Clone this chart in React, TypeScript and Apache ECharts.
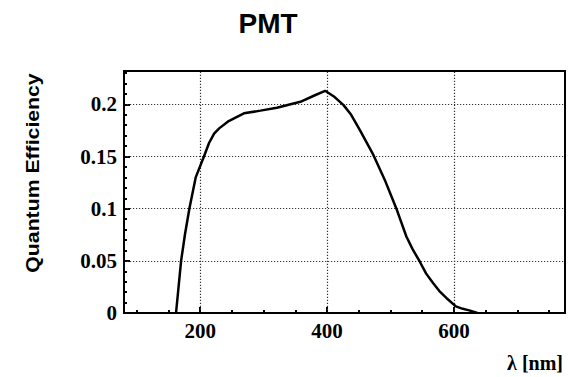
import React, { useEffect, useRef } from "react";
import * as echarts from "echarts";

const wavelength = [162, 166, 170, 176, 183, 193, 206, 214, 222, 230, 245, 269, 295, 321, 358, 380, 397, 412, 426, 438, 452, 473, 491, 509, 525, 535, 546, 556, 567, 577, 588, 603, 614, 624, 637];
const efficiency = [0, 0.025, 0.05, 0.075, 0.1, 0.13, 0.15, 0.163, 0.172, 0.177, 0.184, 0.1914, 0.194, 0.1968, 0.2025, 0.2085, 0.213, 0.207, 0.1993, 0.19, 0.175, 0.1515, 0.1276, 0.1005, 0.0733, 0.061, 0.0494, 0.038, 0.0287, 0.021, 0.0144, 0.0063, 0.004, 0.0025, 0];
const xMajorTicks = [200, 400, 600];
const xMinorTicks = [100, 150, 250, 300, 350, 450, 500, 550, 650, 700, 750];
const yMajorTicks = [0.05, 0.1, 0.15, 0.2];
const yTickLabels = ["0", "0.05", "0.1", "0.15", "0.2"];
const xMin = 80;
const xMax = 775;
const yMin = 0;
const yMax = 0.232;

const serif = "'Liberation Serif', 'DejaVu Serif', serif";
const sans = "'Liberation Sans', Arial, sans-serif";

export default function App() {
  const ref = useRef<HTMLDivElement>(null);
  useEffect(() => {
    document.body.style.margin = "0";
    const chart = echarts.init(ref.current!, undefined, { renderer: "svg" });
    const data = wavelength.map((w, i) => [w, efficiency[i]]);
    const gridLine = { color: "#333", type: [1.2, 1.8], width: 1.2 };
    chart.setOption({
      animation: false,
      backgroundColor: "#ffffff",
      grid: { left: 124, top: 71, right: 9, bottom: 64, show: true, borderColor: "#000", borderWidth: 2, backgroundColor: "transparent", z: 10 },
      graphic: [
        { type: "text", x: 268, y: 23, style: { text: "PMT", font: `bold 28px ${sans}`, fill: "#000", textAlign: "center", textVerticalAlign: "middle" } },
        { type: "text", x: 33, y: 173, rotation: Math.PI / 2, scaleX: 1.18, style: { text: "Quantum Efficiency", font: `bold 18px ${sans}`, fill: "#000", textAlign: "center", textVerticalAlign: "middle" } },
        { type: "text", x: 563, y: 363, style: { text: "λ [nm]", font: `bold 20px ${serif}`, fill: "#000", textAlign: "right", textVerticalAlign: "middle" } },
      ],
      xAxis: [
        {
          type: "value", min: xMin, max: xMax, position: "bottom",
          axisLine: { show: false },
          axisTick: { show: true, inside: true, length: 3, lineStyle: { color: "#000", width: 2 }, customValues: xMinorTicks },
          axisLabel: { show: false },
          splitLine: { show: false },
        },
        {
          type: "value", min: xMin, max: xMax, position: "bottom",
          axisLine: { show: false },
          axisTick: { show: true, inside: true, length: 6, lineStyle: { color: "#000", width: 2 }, customValues: xMajorTicks },
          axisLabel: { show: true, customValues: xMajorTicks, margin: 7, fontFamily: serif, fontWeight: "bold", fontSize: 21, color: "#000" },
          splitLine: { show: false },
        },
      ],
      yAxis: {
        type: "value", min: yMin, max: yMax, interval: 0.05,
        axisLine: { show: false },
        axisTick: { show: true, inside: true, length: 6, lineStyle: { color: "#000", width: 2 } },
        minorTick: { show: true, splitNumber: 5, length: 3, lineStyle: { color: "#000", width: 2 } },
        axisLabel: {
          margin: 7, fontFamily: serif, fontWeight: "bold", fontSize: 21, color: "#000",
          formatter: (v: number) => {
            const idx = Math.round(v / 0.05);
            return Math.abs(idx * 0.05 - v) < 1e-6 && idx < yTickLabels.length ? yTickLabels[idx] : "";
          },
        },
        splitLine: { show: false },
      },
      series: [
        {
          type: "line", xAxisIndex: 0, yAxisIndex: 0, data, showSymbol: false, symbol: "none",
          lineStyle: { color: "#000", width: 2.5 }, smooth: false, z: 5,
        },
        {
          type: "line", xAxisIndex: 0, yAxisIndex: 0, data: [], showSymbol: false, symbol: "none", z: 1,
          markLine: {
            silent: true, symbol: "none", label: { show: false },
            lineStyle: gridLine,
            data: [
              ...xMajorTicks.map((v) => [{ coord: [v, yMin] }, { coord: [v, yMax] }]),
              ...yMajorTicks.map((v) => [{ coord: [xMin, v] }, { coord: [xMax, v] }]),
            ],
            z: 1,
          },
        },
      ],
    });
    return () => chart.dispose();
  }, []);
  return <div ref={ref} style={{ width: 574, height: 377 }} />;
}
